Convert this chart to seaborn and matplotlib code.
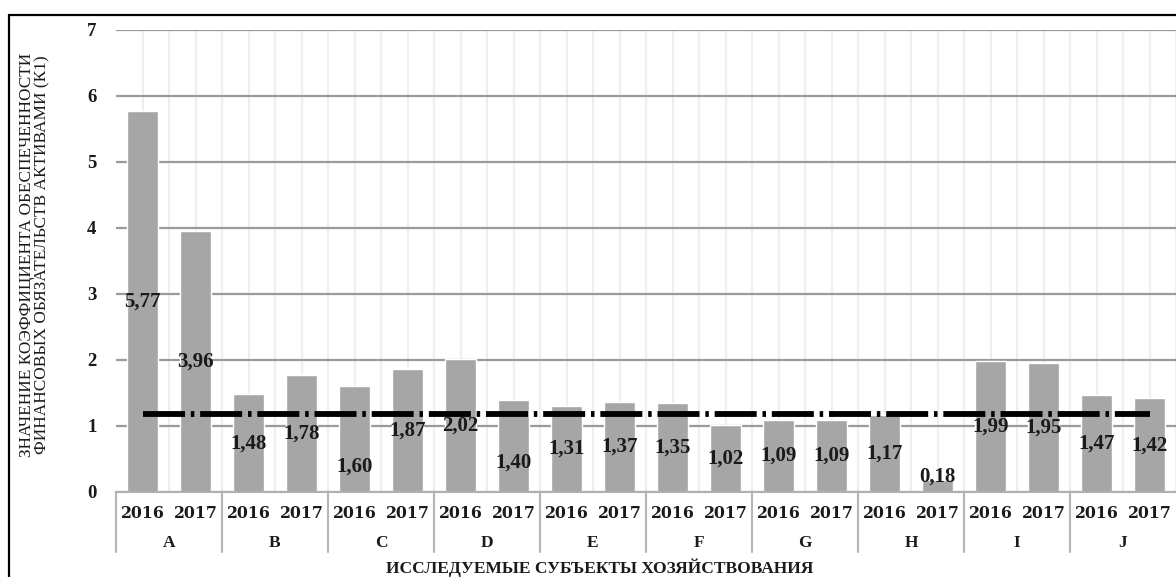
import numpy as np
import pandas as pd
import matplotlib
matplotlib.use("Agg")
import matplotlib.pyplot as plt
import matplotlib.transforms as mtransforms
from matplotlib.lines import Line2D
import seaborn as sns

# data
subjects = ["A", "B", "C", "D", "E", "F", "G", "H", "I", "J"]
years = ["2016", "2017"]
values_2016 = [5.77, 1.48, 1.60, 2.02, 1.31, 1.35, 1.09, 1.17, 1.99, 1.47]
values_2017 = [3.96, 1.78, 1.87, 1.40, 1.37, 1.02, 1.09, 0.18, 1.95, 1.42]
norm_value = 1.18

rows = []
for s, v16, v17 in zip(subjects, values_2016, values_2017):
    rows.append({"bar": s + "-2016", "subject": s, "year": "2016", "value": v16})
    rows.append({"bar": s + "-2017", "subject": s, "year": "2017", "value": v17})
df = pd.DataFrame(rows)

sns.set_style("white")
plt.rcParams["font.family"] = ["Liberation Serif", "DejaVu Serif"]

fig = plt.figure(figsize=(11.76, 5.77), dpi=100)
ax = fig.add_axes([116 / 1176, 85 / 577, 1 - 116 / 1176, 462 / 577])

ax.set_axisbelow(True)
sns.barplot(data=df, x="bar", y="value", color="#a6a6a6", saturation=1,
            width=0.57, ax=ax, zorder=2)

n = len(df)
ax.set_xlim(-0.5, n - 0.5)
ax.set_ylim(0, 7)
ax.set_yticks(range(0, 8))

# grid
ax.set_xticks(np.arange(n) + 0.5, minor=True)
ax.xaxis.grid(True, which="both", color="#efefef", lw=1.6, zorder=0)
ax.yaxis.grid(True, color="#9a9a9a", lw=1.6, zorder=1)

for sp in ["top", "right", "left"]:
    ax.spines[sp].set_visible(False)
ax.spines["bottom"].set_color("#b0b0b0")
ax.spines["bottom"].set_linewidth(1.5)

# norm line
ax.plot([0, n - 1], [norm_value, norm_value], color="black", lw=4.2,
        dashes=(7.2, 1.0, 0.6, 1.0), zorder=4)

# value labels
label_shift = {4: -20, 7: -12, 15: 7}
for i, v in enumerate(df["value"]):
    ax.annotate(f"{v:.2f}".replace(".", ","), (i, v / 2),
                xytext=(0, label_shift.get(i, 0)), textcoords="offset points",
                ha="center", va="center", fontsize=15, fontweight="bold",
                color="#1a1a1a", zorder=5)

# x ticks: years
ax.set_xticks(range(n))
ax.set_xticklabels(df["year"], fontfamily="DejaVu Serif", fontweight="bold",
                   fontsize=11.3, color="#1a1a1a")
ax.tick_params(axis="x", which="both", length=0, pad=9)
ax.tick_params(axis="y", length=0, pad=14, labelsize=13.5)
for t in ax.get_yticklabels():
    t.set_fontweight("bold")
    t.set_color("#1a1a1a")
ax.set_xlabel("")
ax.set_ylabel("")

# group labels and separators
trans = mtransforms.blended_transform_factory(ax.transData, ax.transAxes)
for k, s in enumerate(subjects):
    ax.text(2 * k + 0.5, -0.110, s, transform=trans, ha="center", va="center",
            fontsize=12.5, fontweight="bold", color="#1a1a1a")
    ax.plot([2 * k - 0.5, 2 * k - 0.5], [0, -0.13], transform=trans,
            color="#b5b5b5", lw=1.5, clip_on=False)

fig.text(600 / 1176, 9 / 577, "ИССЛЕДУЕМЫЕ СУБЪЕКТЫ ХОЗЯЙСТВОВАНИЯ",
         ha="center", va="center", fontsize=12.5, fontweight="bold",
         color="#1a1a1a")
fig.text(35 / 1176, 1 - 255 / 577,
         "ЗНАЧЕНИЕ КОЭФФИЦИЕНТА ОБЕСПЕЧЕННОСТИ\nФИНАНСОВЫХ ОБЯЗАТЕЛЬСТВ АКТИВАМИ (К1)",
         rotation=90, ha="center", va="center", multialignment="center",
         fontsize=12.4, linespacing=0.92, color="#1a1a1a")

# outer frame (top and left edges visible)
fig.add_artist(Line2D([9 / 1176, 1.01], [1 - 15 / 577, 1 - 15 / 577],
                      color="black", lw=1.6, transform=fig.transFigure))
fig.add_artist(Line2D([9 / 1176, 9 / 1176], [-0.01, 1 - 15 / 577],
                      color="black", lw=1.6, transform=fig.transFigure))

fig.savefig("out.png", dpi=100)
